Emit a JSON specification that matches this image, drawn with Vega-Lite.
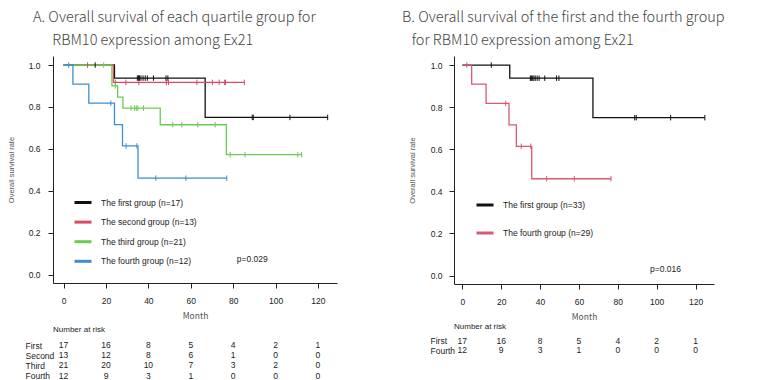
{
  "$schema": "https://vega.github.io/schema/vega-lite/v6.json",
  "background": "white",
  "padding": {"left": 7, "top": 9, "right": 0, "bottom": 0},
  "resolve": {"scale": {"color": "independent"}, "legend": {"color": "independent"}},
  "config": {
    "view": {"stroke": null},
    "font": "Liberation Sans",
    "axis": {"labelFont": "Liberation Sans", "labelFontSize": 8.5, "labelColor": "#222", "domainColor": "#222", "tickColor": "#222", "grid": false, "titleFontWeight": "normal", "titleColor": "#555"}
  },
  "datasets": {
    "curvesA": [
      {"group": "The first group (n=17)", "month": 0, "surv": 1},
      {"group": "The first group (n=17)", "month": 24.0, "surv": 0.9375},
      {"group": "The first group (n=17)", "month": 66.8, "surv": 0.75},
      {"group": "The first group (n=17)", "month": 124.6, "surv": 0.75},
      {"group": "The second group (n=13)", "month": 0, "surv": 1},
      {"group": "The second group (n=13)", "month": 23.5, "surv": 0.917},
      {"group": "The second group (n=13)", "month": 85.3, "surv": 0.917},
      {"group": "The third group (n=21)", "month": 0, "surv": 1},
      {"group": "The third group (n=21)", "month": 22.8, "surv": 0.9},
      {"group": "The third group (n=21)", "month": 25.5, "surv": 0.847},
      {"group": "The third group (n=21)", "month": 28.0, "surv": 0.794},
      {"group": "The third group (n=21)", "month": 45.6, "surv": 0.715},
      {"group": "The third group (n=21)", "month": 76.8, "surv": 0.572},
      {"group": "The third group (n=21)", "month": 112.3, "surv": 0.572},
      {"group": "The fourth group (n=12)", "month": 0, "surv": 1},
      {"group": "The fourth group (n=12)", "month": 4.4, "surv": 0.909},
      {"group": "The fourth group (n=12)", "month": 11.9, "surv": 0.818},
      {"group": "The fourth group (n=12)", "month": 24.0, "surv": 0.716},
      {"group": "The fourth group (n=12)", "month": 27.8, "surv": 0.614},
      {"group": "The fourth group (n=12)", "month": 35.1, "surv": 0.46},
      {"group": "The fourth group (n=12)", "month": 77.0, "surv": 0.46}
    ],
    "censorA": [
      {"group": "The first group (n=17)", "month": 14.9, "surv": 1},
      {"group": "The first group (n=17)", "month": 34.8, "surv": 0.9375},
      {"group": "The first group (n=17)", "month": 35.3, "surv": 0.9375},
      {"group": "The first group (n=17)", "month": 35.8, "surv": 0.9375},
      {"group": "The first group (n=17)", "month": 36.5, "surv": 0.9375},
      {"group": "The first group (n=17)", "month": 37.5, "surv": 0.9375},
      {"group": "The first group (n=17)", "month": 38.5, "surv": 0.9375},
      {"group": "The first group (n=17)", "month": 39.5, "surv": 0.9375},
      {"group": "The first group (n=17)", "month": 42.4, "surv": 0.9375},
      {"group": "The first group (n=17)", "month": 48.3, "surv": 0.9375},
      {"group": "The first group (n=17)", "month": 49.2, "surv": 0.9375},
      {"group": "The first group (n=17)", "month": 89.0, "surv": 0.75},
      {"group": "The first group (n=17)", "month": 89.5, "surv": 0.75},
      {"group": "The first group (n=17)", "month": 106.8, "surv": 0.75},
      {"group": "The first group (n=17)", "month": 124.6, "surv": 0.75},
      {"group": "The second group (n=13)", "month": 11.3, "surv": 1},
      {"group": "The second group (n=13)", "month": 24.4, "surv": 0.917},
      {"group": "The second group (n=13)", "month": 29.4, "surv": 0.917},
      {"group": "The second group (n=13)", "month": 35.5, "surv": 0.917},
      {"group": "The second group (n=13)", "month": 48.5, "surv": 0.917},
      {"group": "The second group (n=13)", "month": 49.5, "surv": 0.917},
      {"group": "The second group (n=13)", "month": 62.9, "surv": 0.917},
      {"group": "The second group (n=13)", "month": 70.2, "surv": 0.917},
      {"group": "The second group (n=13)", "month": 73.4, "surv": 0.917},
      {"group": "The second group (n=13)", "month": 76.0, "surv": 0.917},
      {"group": "The second group (n=13)", "month": 76.4, "surv": 0.917},
      {"group": "The second group (n=13)", "month": 85.3, "surv": 0.917},
      {"group": "The third group (n=21)", "month": 18.9, "surv": 1},
      {"group": "The third group (n=21)", "month": 24.4, "surv": 0.9},
      {"group": "The third group (n=21)", "month": 31.8, "surv": 0.794},
      {"group": "The third group (n=21)", "month": 33.5, "surv": 0.794},
      {"group": "The third group (n=21)", "month": 34.3, "surv": 0.794},
      {"group": "The third group (n=21)", "month": 35.0, "surv": 0.794},
      {"group": "The third group (n=21)", "month": 37.7, "surv": 0.794},
      {"group": "The third group (n=21)", "month": 51.5, "surv": 0.715},
      {"group": "The third group (n=21)", "month": 55.8, "surv": 0.715},
      {"group": "The third group (n=21)", "month": 63.3, "surv": 0.715},
      {"group": "The third group (n=21)", "month": 71.5, "surv": 0.715},
      {"group": "The third group (n=21)", "month": 78.6, "surv": 0.572},
      {"group": "The third group (n=21)", "month": 85.6, "surv": 0.572},
      {"group": "The third group (n=21)", "month": 110.5, "surv": 0.572},
      {"group": "The third group (n=21)", "month": 112.3, "surv": 0.572},
      {"group": "The fourth group (n=12)", "month": 2.4, "surv": 1},
      {"group": "The fourth group (n=12)", "month": 22.3, "surv": 0.818},
      {"group": "The fourth group (n=12)", "month": 29.5, "surv": 0.614},
      {"group": "The fourth group (n=12)", "month": 34.6, "surv": 0.614},
      {"group": "The fourth group (n=12)", "month": 43.5, "surv": 0.46},
      {"group": "The fourth group (n=12)", "month": 57.7, "surv": 0.46},
      {"group": "The fourth group (n=12)", "month": 77.0, "surv": 0.46}
    ],
    "riskA": [
      {"row": "First", "month": 0, "n": 17}, {"row": "First", "month": 20, "n": 16}, {"row": "First", "month": 40, "n": 8}, {"row": "First", "month": 60, "n": 5}, {"row": "First", "month": 80, "n": 4}, {"row": "First", "month": 100, "n": 2}, {"row": "First", "month": 120, "n": 1},
      {"row": "Second", "month": 0, "n": 13}, {"row": "Second", "month": 20, "n": 12}, {"row": "Second", "month": 40, "n": 8}, {"row": "Second", "month": 60, "n": 6}, {"row": "Second", "month": 80, "n": 1}, {"row": "Second", "month": 100, "n": 0}, {"row": "Second", "month": 120, "n": 0},
      {"row": "Third", "month": 0, "n": 21}, {"row": "Third", "month": 20, "n": 20}, {"row": "Third", "month": 40, "n": 10}, {"row": "Third", "month": 60, "n": 7}, {"row": "Third", "month": 80, "n": 3}, {"row": "Third", "month": 100, "n": 2}, {"row": "Third", "month": 120, "n": 0},
      {"row": "Fourth", "month": 0, "n": 12}, {"row": "Fourth", "month": 20, "n": 9}, {"row": "Fourth", "month": 40, "n": 3}, {"row": "Fourth", "month": 60, "n": 1}, {"row": "Fourth", "month": 80, "n": 0}, {"row": "Fourth", "month": 100, "n": 0}, {"row": "Fourth", "month": 120, "n": 0}
    ],
    "curvesB": [
      {"groupB": "The first group (n=33)", "month": 0, "surv": 1},
      {"groupB": "The first group (n=33)", "month": 24.4, "surv": 0.9375},
      {"groupB": "The first group (n=33)", "month": 67.2, "surv": 0.75},
      {"groupB": "The first group (n=33)", "month": 124.8, "surv": 0.75},
      {"groupB": "The fourth group (n=29)", "month": 0, "surv": 1},
      {"groupB": "The fourth group (n=29)", "month": 4.8, "surv": 0.909},
      {"groupB": "The fourth group (n=29)", "month": 12.2, "surv": 0.818},
      {"groupB": "The fourth group (n=29)", "month": 24.0, "surv": 0.716},
      {"groupB": "The fourth group (n=29)", "month": 27.8, "surv": 0.614},
      {"groupB": "The fourth group (n=29)", "month": 35.7, "surv": 0.46},
      {"groupB": "The fourth group (n=29)", "month": 76.5, "surv": 0.46}
    ],
    "censorB": [
      {"groupB": "The first group (n=33)", "month": 14.9, "surv": 1},
      {"groupB": "The first group (n=33)", "month": 35.0, "surv": 0.9375},
      {"groupB": "The first group (n=33)", "month": 35.5, "surv": 0.9375},
      {"groupB": "The first group (n=33)", "month": 36.0, "surv": 0.9375},
      {"groupB": "The first group (n=33)", "month": 36.8, "surv": 0.9375},
      {"groupB": "The first group (n=33)", "month": 37.5, "surv": 0.9375},
      {"groupB": "The first group (n=33)", "month": 38.5, "surv": 0.9375},
      {"groupB": "The first group (n=33)", "month": 39.5, "surv": 0.9375},
      {"groupB": "The first group (n=33)", "month": 42.4, "surv": 0.9375},
      {"groupB": "The first group (n=33)", "month": 48.5, "surv": 0.9375},
      {"groupB": "The first group (n=33)", "month": 49.7, "surv": 0.9375},
      {"groupB": "The first group (n=33)", "month": 88.7, "surv": 0.75},
      {"groupB": "The first group (n=33)", "month": 89.5, "surv": 0.75},
      {"groupB": "The first group (n=33)", "month": 107.2, "surv": 0.75},
      {"groupB": "The first group (n=33)", "month": 124.8, "surv": 0.75},
      {"groupB": "The fourth group (n=29)", "month": 2.3, "surv": 1},
      {"groupB": "The fourth group (n=29)", "month": 22.3, "surv": 0.818},
      {"groupB": "The fourth group (n=29)", "month": 30.3, "surv": 0.614},
      {"groupB": "The fourth group (n=29)", "month": 35.2, "surv": 0.614},
      {"groupB": "The fourth group (n=29)", "month": 43.4, "surv": 0.46},
      {"groupB": "The fourth group (n=29)", "month": 57.6, "surv": 0.46},
      {"groupB": "The fourth group (n=29)", "month": 76.5, "surv": 0.46}
    ],
    "riskB": [
      {"row": "First", "month": 0, "n": 17}, {"row": "First", "month": 20, "n": 16}, {"row": "First", "month": 40, "n": 8}, {"row": "First", "month": 60, "n": 5}, {"row": "First", "month": 80, "n": 4}, {"row": "First", "month": 100, "n": 2}, {"row": "First", "month": 120, "n": 1},
      {"row": "Fourth", "month": 0, "n": 12}, {"row": "Fourth", "month": 20, "n": 9}, {"row": "Fourth", "month": 40, "n": 3}, {"row": "Fourth", "month": 60, "n": 1}, {"row": "Fourth", "month": 80, "n": 0}, {"row": "Fourth", "month": 100, "n": 0}, {"row": "Fourth", "month": 120, "n": 0}
    ],
    "pA": [{"p": "p=0.029"}],
    "pB": [{"p": "p=0.016"}]
  },
  "spacing": 65,
  "hconcat": [
    {
      "spacing": 6,
      "vconcat": [
        {
          "title": {"text": ["A. Overall survival of each quartile group for", "\u200b\u2003\u2004RBM10 expression among Ex21"], "anchor": "start", "frame": "group", "dx": -20, "fontSize": 14.5, "font": "Noto Sans CJK JP", "fontWeight": 300, "color": "#444", "lineHeight": 23, "offset": 8},
          "width": 284,
          "height": 227,
          "layer": [
            {
              "data": {"name": "curvesA"},
              "mark": {"type": "line", "interpolate": "step-after", "strokeWidth": 1.3},
              "encoding": {
                "x": {"field": "month", "type": "quantitative", "scale": {"domain": [-5, 129], "nice": false, "zero": false},
                  "axis": {"values": [0, 20, 40, 60, 80, 100, 120], "title": "Month", "titleFont": "Noto Sans CJK JP", "titleFontSize": 8.5, "tickSize": 5, "labelPadding": 8, "titlePadding": 7, "labelFlush": false}},
                "y": {"field": "surv", "type": "quantitative", "scale": {"domain": [-0.04, 1.043], "nice": false, "zero": false},
                  "axis": {"values": [0, 0.2, 0.4, 0.6, 0.8, 1.0], "format": ".1f", "title": "Overall survival rate", "titleFontSize": 7.5, "tickSize": 5, "labelPadding": 8, "minExtent": 30, "titlePadding": 8}},
                "color": {"field": "group", "type": "nominal",
                  "scale": {"domain": ["The first group (n=17)", "The second group (n=13)", "The third group (n=21)", "The fourth group (n=12)"], "range": ["#111111", "#D94A66", "#6CCB54", "#3D8FD1"]},
                  "legend": {"orient": "none", "legendX": 20, "legendY": 136.5, "title": null, "symbolType": "stroke", "symbolStrokeWidth": 3, "symbolSize": 289, "labelFontSize": 8.5, "labelColor": "#222", "labelOffset": 8, "rowPadding": 3.6, "padding": 0}}
              }
            },
            {
              "data": {"name": "censorA"},
              "mark": {"type": "point", "shape": "M0,-1L0,1", "size": 30, "strokeWidth": 1, "filled": false, "opacity": 1},
              "encoding": {
                "x": {"field": "month", "type": "quantitative"},
                "y": {"field": "surv", "type": "quantitative"},
                "color": {"field": "group", "type": "nominal", "legend": null}
              }
            },
            {
              "data": {"name": "pA"},
              "mark": {"type": "text", "align": "left", "baseline": "middle", "fontSize": 8.5, "color": "#222"},
              "encoding": {
                "x": {"datum": 81.7, "type": "quantitative"},
                "y": {"datum": 0.076, "type": "quantitative"},
                "text": {"field": "p", "type": "nominal"}
              }
            }
          ]
        },
        {
          "title": {"text": "Number at risk", "anchor": "start", "frame": "group", "fontSize": 8, "fontWeight": "normal", "color": "#222", "offset": 6},
          "width": 284,
          "height": 40.6,
          "data": {"name": "riskA"},
          "mark": {"type": "text", "fontSize": 8.5, "color": "#222"},
          "encoding": {
            "x": {"field": "month", "type": "quantitative", "scale": {"domain": [-5, 129], "nice": false, "zero": false}, "axis": null},
            "y": {"field": "row", "type": "nominal", "sort": ["First", "Second", "Third", "Fourth"],
              "axis": {"title": null, "domain": false, "ticks": false, "labelAlign": "left", "labelPadding": 28, "minExtent": 46, "labelFontSize": 8.5}},
            "text": {"field": "n", "type": "quantitative"}
          }
        }
      ]
    },
    {
      "spacing": 2,
      "vconcat": [
        {
          "title": {"text": ["B. Overall survival of the first and the fourth group", "\u200b\u2002\u2006for RBM10 expression among Ex21"], "anchor": "start", "frame": "group", "dx": -52, "fontSize": 14.5, "font": "Noto Sans CJK JP", "fontWeight": 300, "color": "#444", "lineHeight": 23, "offset": 8},
          "width": 260,
          "height": 228,
          "layer": [
            {
              "data": {"name": "curvesB"},
              "mark": {"type": "line", "interpolate": "step-after", "strokeWidth": 1.3},
              "encoding": {
                "x": {"field": "month", "type": "quantitative", "scale": {"domain": [-4.3, 129.5], "nice": false, "zero": false},
                  "axis": {"values": [0, 20, 40, 60, 80, 100, 120], "title": "Month", "titleFont": "Noto Sans CJK JP", "titleFontSize": 8.5, "tickSize": 5, "labelPadding": 8, "titlePadding": 7, "labelFlush": false}},
                "y": {"field": "surv", "type": "quantitative", "scale": {"domain": [-0.04, 1.043], "nice": false, "zero": false},
                  "axis": {"values": [0, 0.2, 0.4, 0.6, 0.8, 1.0], "format": ".1f", "title": "Overall survival rate", "titleFontSize": 7.5, "tickSize": 5, "labelPadding": 7, "minExtent": 30, "titlePadding": 8}},
                "color": {"field": "groupB", "type": "nominal",
                  "scale": {"domain": ["The first group (n=33)", "The fourth group (n=29)"], "range": ["#111111", "#D65A72"]},
                  "legend": {"orient": "none", "legendX": 21, "legendY": 139, "title": null, "symbolType": "stroke", "symbolStrokeWidth": 3, "symbolSize": 289, "labelFontSize": 8.5, "labelColor": "#222", "labelOffset": 8, "rowPadding": 12, "padding": 0}}
              }
            },
            {
              "data": {"name": "censorB"},
              "mark": {"type": "point", "shape": "M0,-1L0,1", "size": 30, "strokeWidth": 1, "filled": false, "opacity": 1},
              "encoding": {
                "x": {"field": "month", "type": "quantitative"},
                "y": {"field": "surv", "type": "quantitative"},
                "color": {"field": "groupB", "type": "nominal", "legend": null}
              }
            },
            {
              "data": {"name": "pB"},
              "mark": {"type": "text", "align": "left", "baseline": "middle", "fontSize": 8.5, "color": "#222"},
              "encoding": {
                "x": {"datum": 96.6, "type": "quantitative"},
                "y": {"datum": 0.032, "type": "quantitative"},
                "text": {"field": "p", "type": "nominal"}
              }
            }
          ]
        },
        {
          "title": {"text": "Number at risk", "anchor": "start", "frame": "group", "fontSize": 8, "fontWeight": "normal", "color": "#222", "offset": 5},
          "width": 260,
          "height": 19,
          "data": {"name": "riskB"},
          "mark": {"type": "text", "fontSize": 8.5, "color": "#222"},
          "encoding": {
            "x": {"field": "month", "type": "quantitative", "scale": {"domain": [-4.3, 129.5], "nice": false, "zero": false}, "axis": null},
            "y": {"field": "row", "type": "nominal", "sort": ["First", "Fourth"],
              "axis": {"title": null, "domain": false, "ticks": false, "labelAlign": "left", "labelPadding": 24, "minExtent": 52, "labelFontSize": 8.5}},
            "text": {"field": "n", "type": "quantitative"}
          }
        }
      ]
    }
  ]
}
